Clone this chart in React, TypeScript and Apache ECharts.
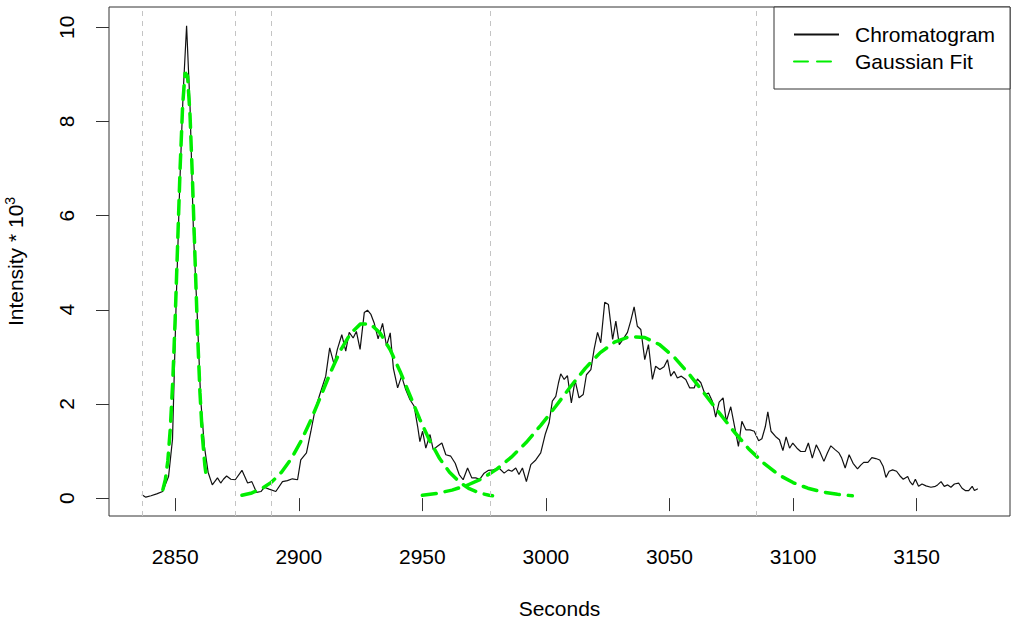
import React, { useEffect, useRef } from "react";
import * as echarts from "echarts";

const xTicks = [2850, 2900, 2950, 3000, 3050, 3100, 3150];
const yTicks = [0, 2, 4, 6, 8, 10];
const boundaryLines = [2836.6, 2874.2, 2889.0, 2977.3, 3085.2];

const chromTime = [
  2836.5, 2838.1, 2840.2, 2842.5, 2844.9, 2847.3, 2848.9, 2850.3, 2851.8, 2853.2, 2854.6, 2856.0, 2857.4, 2858.9,
  2860.3, 2861.8, 2863.3, 2865.0, 2867.1, 2868.4, 2869.5, 2870.8, 2872.5, 2874.3, 2877.0, 2879.3, 2881.0, 2882.9,
  2884.7, 2886.0, 2888.0, 2890.7, 2893.4, 2895.4, 2897.4, 2899.5, 2900.8, 2903.1, 2904.9, 2906.6, 2908.5, 2910.9,
  2912.5, 2914.3, 2915.6, 2917.4, 2919.0, 2920.4, 2922.0, 2923.3, 2924.8, 2926.5, 2927.8, 2929.2, 2930.5, 2932.1,
  2933.9, 2935.5, 2937.0, 2938.3, 2940.0, 2941.6, 2943.3, 2945.0, 2946.7, 2948.1, 2949.0, 2950.1, 2951.4, 2953.1,
  2954.4, 2956.1, 2957.9, 2959.5, 2961.5, 2963.3, 2964.9, 2966.5, 2968.3, 2970.0, 2971.6, 2973.2, 2975.0, 2976.8,
  2978.6, 2981.0, 2983.1, 2984.8, 2986.2, 2987.8, 2989.1, 2990.5, 2992.1, 2993.9, 2995.9, 2997.9, 2999.7, 3001.3,
  3002.6, 3004.0, 3005.1, 3006.0, 3007.4, 3008.7, 3010.3, 3011.8, 3013.4, 3015.1, 3016.4, 3018.2, 3019.5, 3020.9,
  3022.2, 3023.8, 3025.3, 3027.0, 3028.3, 3029.7, 3031.2, 3033.0, 3034.3, 3035.7, 3037.0, 3038.4, 3040.0, 3041.5,
  3043.1, 3044.4, 3046.1, 3047.8, 3049.2, 3050.5, 3051.9, 3053.2, 3054.8, 3056.6, 3058.2, 3060.0, 3061.3, 3062.7,
  3064.4, 3065.8, 3067.4, 3068.7, 3070.1, 3071.7, 3073.0, 3074.8, 3076.2, 3077.9, 3079.3, 3080.9, 3082.6, 3084.3,
  3086.1, 3087.4, 3088.8, 3089.8, 3091.1, 3092.9, 3094.5, 3095.9, 3097.2, 3098.6, 3099.9, 3101.6, 3103.1, 3104.9,
  3106.2, 3107.8, 3109.4, 3110.8, 3112.5, 3113.9, 3115.3, 3117.0, 3118.6, 3119.7, 3121.1, 3122.7, 3124.3, 3126.1,
  3127.4, 3128.6, 3130.3, 3131.9, 3133.5, 3135.1, 3136.5, 3137.6, 3138.9, 3140.3, 3141.9, 3143.3, 3144.6, 3146.4,
  3147.3, 3148.4, 3149.5, 3150.8, 3152.2, 3153.8, 3155.8, 3157.6, 3158.5, 3159.9, 3161.2, 3162.6, 3163.9, 3165.3,
  3167.0, 3168.4, 3169.7, 3171.1, 3172.5, 3173.4, 3174.8,
];
const chromIntensity = [
  0.07, 0.02, 0.05, 0.09, 0.14, 0.46, 1.25, 4.0, 6.6, 8.6, 10.03, 8.3, 5.6, 3.9,
  2.1, 1.1, 0.55, 0.28, 0.43, 0.32, 0.4, 0.47, 0.4, 0.39, 0.59, 0.32, 0.35, 0.12,
  0.14, 0.23, 0.19, 0.14, 0.35, 0.37, 0.41, 0.39, 0.81, 0.96, 1.42, 1.88, 2.2, 2.59,
  3.19, 2.84, 3.16, 3.47, 3.12, 3.52, 3.4, 3.54, 3.16, 3.94, 3.99, 3.9, 3.72, 3.38,
  3.71, 3.23, 3.51, 2.75, 2.34, 2.59, 2.3, 2.09, 1.95, 1.52, 1.2, 1.42, 1.06, 1.35,
  1.03, 1.1, 1.17, 0.92, 0.89, 0.74, 0.5, 0.39, 0.64, 0.43, 0.43, 0.4, 0.53, 0.59,
  0.6, 0.64, 0.53, 0.6, 0.57, 0.64, 0.5, 0.64, 0.35, 0.71, 0.81, 0.96, 1.35, 1.6,
  2.06, 2.16, 2.45, 2.64, 2.52, 2.6, 2.02, 2.5, 2.13, 2.2, 2.62, 2.73, 3.16, 3.52,
  3.3, 4.16, 4.11, 3.37, 3.76, 3.26, 3.37, 3.52, 3.76, 4.06, 3.65, 3.58, 2.94, 3.26,
  2.52, 2.8, 2.73, 2.79, 2.94, 2.59, 2.69, 2.55, 2.59, 2.52, 2.34, 2.34, 2.53, 2.45,
  2.2, 2.23, 2.05, 1.72, 2.04, 2.13, 1.63, 1.94, 1.56, 1.1, 1.63, 1.45, 1.45, 1.42,
  1.22, 1.26, 1.52, 1.83, 1.42, 1.31, 1.24, 1.01, 1.3, 1.06, 1.17, 1.06, 0.99, 0.99,
  1.17, 0.85, 1.13, 0.99, 0.78, 0.96, 1.11, 1.03, 0.96, 0.85, 0.64, 0.92, 0.74, 0.62,
  0.7, 0.76, 0.76, 0.86, 0.84, 0.81, 0.67, 0.44, 0.57, 0.6, 0.57, 0.47, 0.4, 0.46,
  0.35, 0.28, 0.4, 0.25, 0.3, 0.26, 0.23, 0.25, 0.28, 0.35, 0.25, 0.28, 0.23, 0.3,
  0.32, 0.21, 0.16, 0.16, 0.25, 0.16, 0.2,
];

const fit1Time = [2845, 2846, 2847, 2848, 2849, 2850, 2851, 2852, 2853, 2854, 2855, 2856, 2857, 2858, 2859, 2860, 2861, 2862, 2862.6];
const fit1Value = [0.18, 0.39, 0.79, 1.47, 2.48, 3.84, 5.44, 7.04, 8.34, 9.04, 8.96, 8.12, 6.73, 5.11, 3.55, 2.25, 1.31, 0.69, 0.46];

const fit2Time = [2877, 2881, 2885, 2889, 2893, 2897, 2901, 2905, 2909, 2913, 2917, 2921, 2925, 2929, 2933, 2937, 2941, 2945, 2949, 2953, 2957, 2961, 2965, 2969, 2973, 2977, 2978.4];
const fit2Value = [0.06, 0.11, 0.2, 0.34, 0.55, 0.84, 1.22, 1.67, 2.18, 2.69, 3.15, 3.5, 3.7, 3.7, 3.5, 3.15, 2.69, 2.18, 1.67, 1.22, 0.84, 0.55, 0.34, 0.2, 0.11, 0.06, 0.05];

const fit3Time = [2950, 2956, 2962, 2968, 2974, 2980, 2986, 2992, 2998, 3004, 3010, 3016, 3022, 3028, 3034, 3040, 3046, 3052, 3058, 3064, 3070, 3076, 3082, 3088, 3094, 3100, 3106, 3112, 3118, 3124];
const fit3Value = [0.06, 0.1, 0.17, 0.27, 0.41, 0.61, 0.87, 1.18, 1.55, 1.95, 2.37, 2.76, 3.09, 3.32, 3.43, 3.41, 3.26, 2.99, 2.63, 2.23, 1.82, 1.42, 1.05, 0.75, 0.5, 0.33, 0.21, 0.13, 0.08, 0.05];

const FONT = "Liberation Sans, Helvetica, Arial, sans-serif";
const GREEN = "#00ee00";

const zip = (xs: number[], ys: number[]) => xs.map((x, i) => [x, ys[i]]);

const fitSeries = (xs: number[], ys: number[]) => ({
  name: "Gaussian Fit",
  type: "line",
  data: zip(xs, ys),
  showSymbol: false,
  symbol: "none",
  smooth: false,
  z: 3,
  lineStyle: { color: GREEN, width: 3.5, type: [14, 9], cap: "round" },
  itemStyle: { color: GREEN },
});

export default function App() {
  const ref = useRef<HTMLDivElement>(null);
  useEffect(() => {
    if (!ref.current) return;
    const chart = echarts.init(ref.current, null, { renderer: "svg" });
    chart.setOption({
      animation: false,
      backgroundColor: "#ffffff",
      textStyle: { fontFamily: FONT },
      grid: {
        left: 109,
        right: 6,
        top: 7,
        bottom: 105,
        show: true,
        borderColor: "#333",
        borderWidth: 1,
        containLabel: false,
        outerBoundsMode: "none",
      },
      legend: {
        data: ["Chromatogram", "Gaussian Fit"],
        orient: "vertical",
        left: 774,
        top: 7,
        padding: [17, 15, 17, 19],
        itemWidth: 45,
        itemHeight: 14,
        itemGap: 6,
        borderColor: "#333",
        borderWidth: 1,
        backgroundColor: "#fff",
        itemStyle: { opacity: 0 },
        textStyle: { fontSize: 21, color: "#000", fontFamily: FONT, padding: [0, 0, 0, 11] },
      },
      xAxis: {
        type: "value",
        min: 2823.2,
        max: 3187.8,
        axisLine: { show: false },
        splitLine: { show: false },
        axisTick: { show: true, length: 13, customValues: xTicks, lineStyle: { color: "#333" } },
        axisLabel: {
          customValues: xTicks,
          margin: 30,
          fontSize: 21,
          color: "#000",
          fontFamily: FONT,
          formatter: (v: number) => String(v),
        },
        name: "Seconds",
        nameLocation: "middle",
        nameGap: 82,
        nameTextStyle: { fontSize: 21, color: "#000", fontFamily: FONT },
      },
      yAxis: {
        type: "value",
        min: -0.38,
        max: 10.43,
        axisLine: { show: false },
        splitLine: { show: false },
        axisTick: { show: true, length: 13, customValues: yTicks, lineStyle: { color: "#333" } },
        axisLabel: {
          customValues: yTicks,
          rotate: 90,
          margin: 32,
          fontSize: 21,
          color: "#000",
          fontFamily: FONT,
          formatter: (v: number) => String(v),
        },
        name: "Intensity * 10{sup|3}",
        nameLocation: "middle",
        nameGap: 82,
        nameRotate: 90,
        nameTextStyle: {
          fontSize: 21,
          color: "#000",
          fontFamily: FONT,
          rich: { sup: { fontSize: 14, color: "#000", fontFamily: FONT, padding: [0, 0, 10, 0] } },
        },
      },
      series: [
        {
          name: "Chromatogram",
          type: "line",
          data: zip(chromTime, chromIntensity),
          showSymbol: false,
          symbol: "none",
          z: 2,
          lineStyle: { color: "#111", width: 1.2 },
          itemStyle: { color: "#111" },
          markLine: {
            silent: true,
            symbol: ["none", "none"],
            label: { show: false },
            lineStyle: { color: "#c4c4c4", type: [5, 5], width: 1 },
            data: boundaryLines.map((v) => ({ xAxis: v })),
          },
        },
        fitSeries(fit1Time, fit1Value),
        fitSeries(fit2Time, fit2Value),
        fitSeries(fit3Time, fit3Value),
      ],
    });
    return () => chart.dispose();
  }, []);
  return <div ref={ref} style={{ position: "fixed", left: 0, top: 0, width: 1016, height: 621 }} />;
}
